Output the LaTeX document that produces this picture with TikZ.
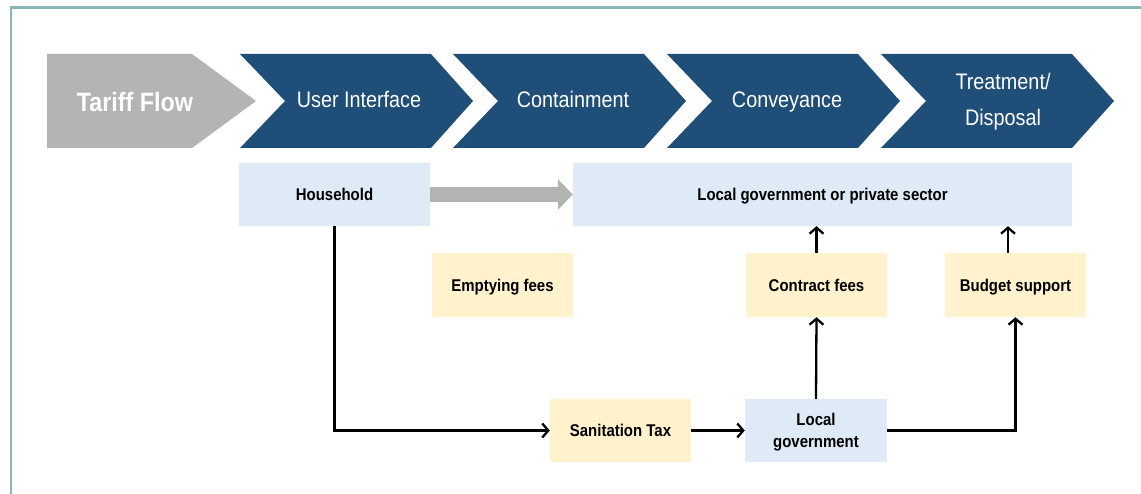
\documentclass[tikz,border=0pt]{standalone}
\usepackage{fontspec}
\setmainfont[FakeStretch=0.88]{Liberation Sans}
\usetikzlibrary{arrows.meta}
\definecolor{frameteal}{HTML}{86B8B6}
\definecolor{chevblue}{HTML}{1F4E79}
\definecolor{tgray}{HTML}{B4B4B4}
\definecolor{boxblue}{HTML}{DEEAF6}
\definecolor{boxyellow}{HTML}{FFF2CC}
\definecolor{arrgray}{HTML}{B3B3B3}
\tikzset{
  bluebox/.style={fill=boxblue, draw=none, minimum width=191pt, minimum height=63pt, inner sep=0pt, text height=12.2pt, text depth=0pt, font=\fontsize{17}{22}\selectfont\bfseries, align=center},
  yelbox/.style={fill=boxyellow, draw=none, minimum width=141pt, minimum height=64pt, inner sep=0pt, text height=12.2pt, text depth=0pt, font=\fontsize{17}{22}\selectfont\bfseries, align=center},
  chevtext/.style={text=white, font=\fontsize{22.5}{36}\selectfont, align=center, text height=16pt, text depth=0pt},
  flow/.style={line width=2.3pt, -{Straight Barb[length=6pt,width=14pt]}}
}
\begin{document}
\begin{tikzpicture}[x=1pt,y=-1pt]
\useasboundingbox (0,0) rectangle (1141,494);
% frame
\draw[frameteal, line width=2.5pt] (11,494) -- (11,7.5) -- (1141,7.5);
% gray header
\fill[tgray] (47,54) -- (192,54) -- (256,101) -- (192,148) -- (47,148) -- cycle;
\node[text=white, font=\fontsize{26.5}{30}\selectfont\bfseries, text height=19pt, text depth=0pt] (tariff) at (135,102) {Tariff Flow};
% chevrons
\foreach \xo in {240,453,667,881}{
  \fill[chevblue] (\xo,54) -- (\xo+191,54) -- (\xo+233,101) -- (\xo+191,148) -- (\xo,148) -- (\xo+45,101) -- cycle;
}
\node[chevtext] (ui) at (359,100) {User Interface};
\node[chevtext] (cont) at (573,100) {Containment};
\node[chevtext] (conv) at (787,100) {Conveyance};
\node[chevtext, text height=52pt] (treat) at (1003,100) {Treatment/\\Disposal};
% boxes
\node[bluebox] (house) at (334.5,194.5) {Household};
\node[bluebox, minimum width=499pt] (lgps) at (822.5,194.5) {Local government or private sector};
\node[yelbox] (empty) at (502.5,285) {Emptying fees};
\node[yelbox] (contract) at (816.5,285) {Contract fees};
\node[yelbox] (budget) at (1015.5,285) {Budget support};
\node[yelbox, minimum height=63pt] (tax) at (620.5,430.5) {Sanitation Tax};
\node[bluebox, minimum width=142pt, text height=34.2pt] (lg) at (816,430.5) {Local\\government};
% gray thick arrow
\draw[arrgray, line width=15pt, -{Triangle[length=15pt,width=30pt]}] (house.east) -- (lgps.west);
% flows
\coordinate (corner1) at (house.south |- tax.west);
\draw[flow] (house.south) -- (corner1) -- (tax.west);
\draw[flow] (tax.east) -- (lg.west);
\draw[flow] (lg.north) -- (contract.south);
\draw[flow] (contract.north) -- (contract.north |- lgps.south);
\coordinate (corner2) at (budget.south |- lg.east);
\draw[flow] (lg.east) -- (corner2) -- (budget.south);
\coordinate (bt) at (1008,253);
\draw[flow] (bt) -- (bt |- lgps.south);
\end{tikzpicture}
\end{document}
